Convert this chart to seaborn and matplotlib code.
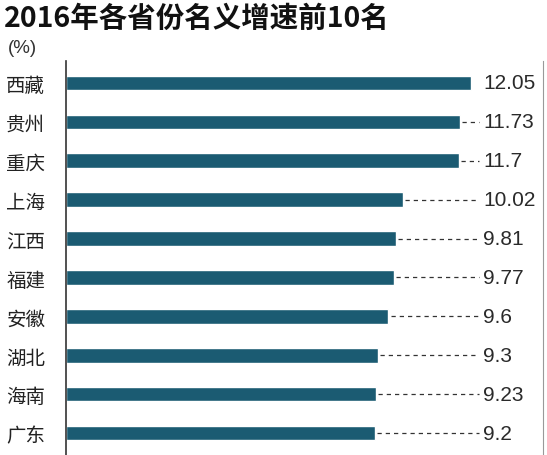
import matplotlib
matplotlib.use("Agg")
import matplotlib.pyplot as plt
import seaborn as sns
import pandas as pd

provinces = ["西藏", "贵州", "重庆", "上海", "江西", "福建", "安徽", "湖北", "海南", "广东"]
growth = [12.05, 11.73, 11.7, 10.02, 9.81, 9.77, 9.6, 9.3, 9.23, 9.2]
value_labels = ["12.05", "11.73", "11.7", "10.02", "9.81", "9.77", "9.6", "9.3", "9.23", "9.2"]

sns.set_style("white")
plt.rcParams['font.family'] = ['Noto Sans CJK SC', 'DejaVu Sans']

df = pd.DataFrame({"province": provinces, "growth": growth})

fig = plt.figure(figsize=(5.47, 4.56), dpi=100)
ax = fig.add_axes([0.1207, 0.0, 0.872, 0.864])

bar_color = "#1b5b72"
sns.barplot(data=df, x="growth", y="province", orient="h", color=bar_color,
            width=0.37, saturation=1, ax=ax)

# dashed leaders from bar end to the value label (none when the bar reaches it)
dash_end = 12.28
label_x = 12.42
for i, (v, txt) in enumerate(zip(growth, value_labels)):
    if dash_end - v > 0.3:
        ax.plot([v + 0.06, dash_end], [i, i], color="#333333", lw=0.9,
                dashes=(3.4, 3.2))
    ax.text(label_x, i, txt, va="center", ha="left", fontsize=15,
            color="#2a2a2a", family="Liberation Sans")

ax.set_xlim(0, 14.2)
ax.set_ylim(9.56, -0.56)
ax.set_xlabel("")
ax.set_ylabel("")
ax.set_xticks([])
ax.tick_params(axis="y", length=0, pad=15, labelsize=14, labelcolor="#222222")

for side in ["top", "bottom"]:
    ax.spines[side].set_visible(False)
ax.spines["left"].set_color("#333333")
ax.spines["left"].set_linewidth(1.2)
ax.spines["right"].set_color("#999999")
ax.spines["right"].set_linewidth(0.8)

fig.text(0.008, 0.99, "2016年各省份名义增速前10名", ha="left", va="top",
         fontsize=20.5, fontweight="heavy", color="#111111")
fig.text(0.014, 0.893, "(%)", ha="left", va="center", fontsize=13.5,
         color="#333333", family="Liberation Sans")

fig.savefig("out.png", dpi=100)
